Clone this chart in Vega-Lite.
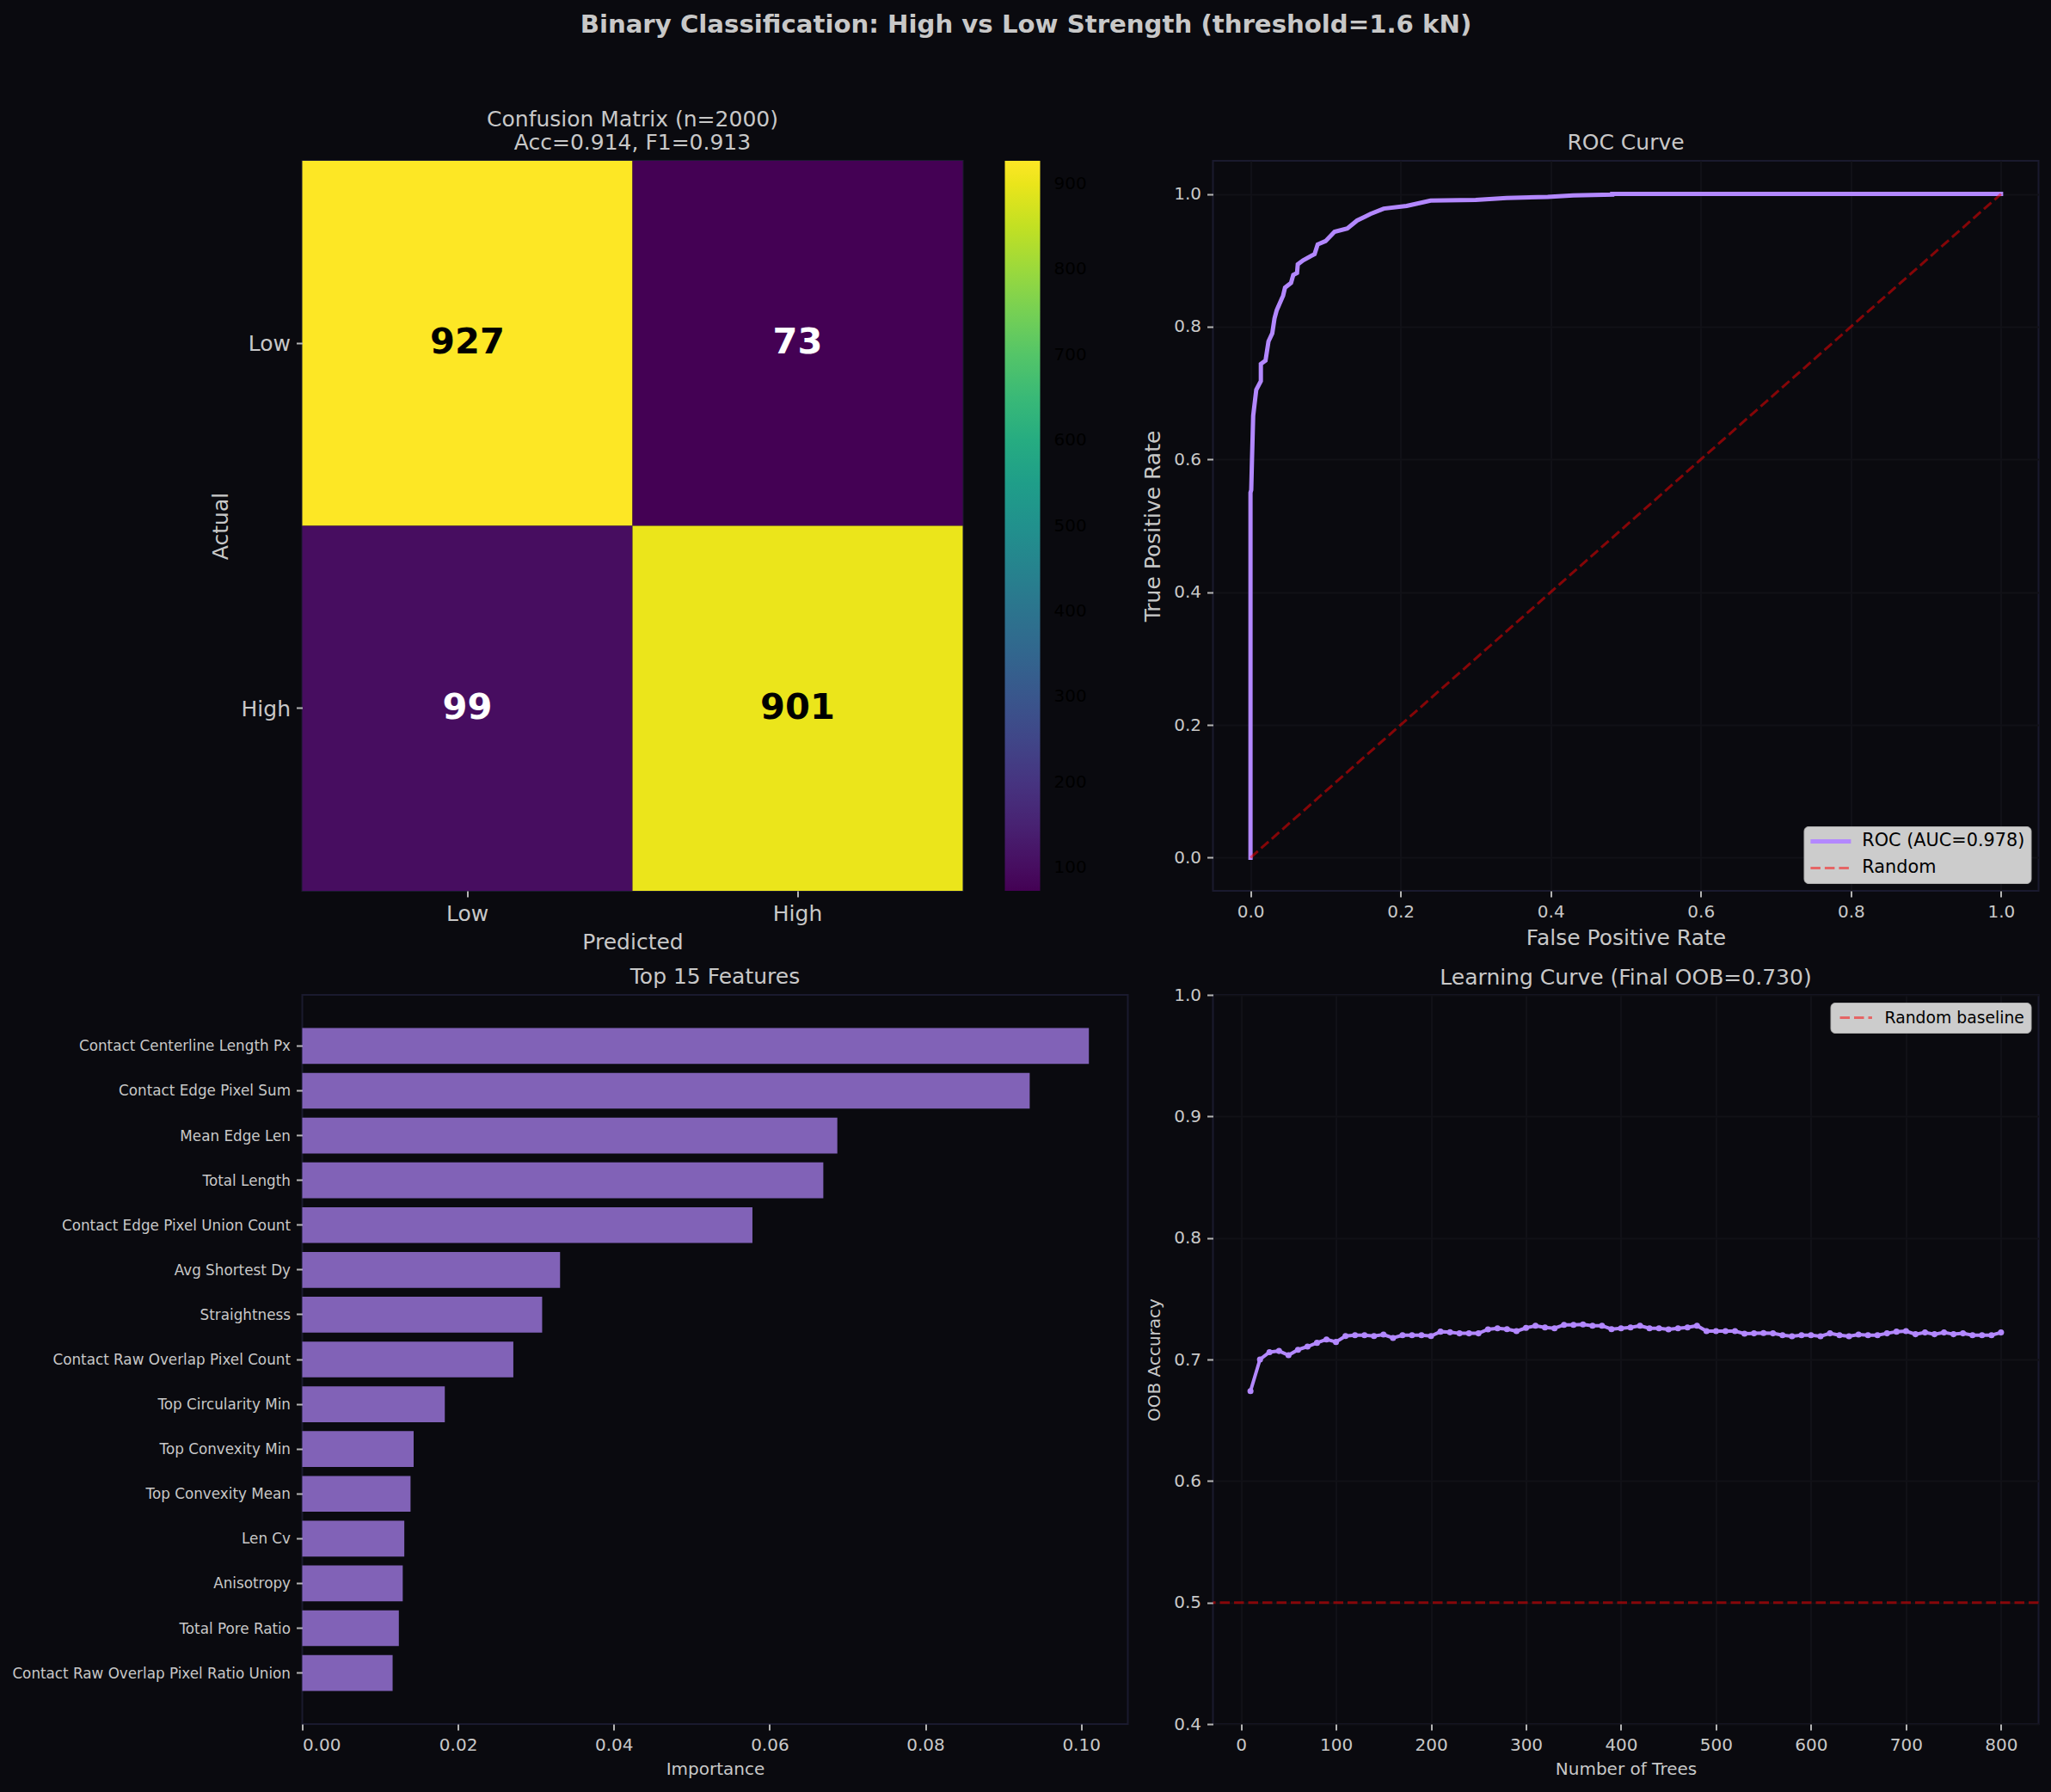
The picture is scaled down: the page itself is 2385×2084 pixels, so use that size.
{
  "$schema": "https://vega.github.io/schema/vega-lite/v6.json",
  "background": "#0a0a0f",
  "padding": {"left": 12.5, "right": 17, "top": 14, "bottom": 19},
  "title": {
    "text": "Binary Classification: High vs Low Strength (threshold=1.6 kN)",
    "fontSize": 29.2,
    "fontWeight": "bold",
    "color": "#c8c8c8",
    "anchor": "middle",
    "dx": 0,
    "offset": 82
  },
  "columns": 2,
  "bounds": "flush",
  "spacing": {"row": 121, "column": 99},
  "config": {
    "font": "DejaVu Sans",
    "view": {"stroke": "#1a1a2e", "strokeWidth": 2},
    "title": {"color": "#c8c8c8", "fontSize": 25, "fontWeight": "normal", "offset": 8},
    "axis": {
      "domain": false,
      "grid": false,
      "gridColor": "#111117",
      "gridWidth": 2,
      "tickSize": 7,
      "tickWidth": 2,
      "tickColor": "#b4b4b4",
      "labelColor": "#c8c8c8",
      "titleColor": "#c8c8c8",
      "labelFontSize": 20,
      "titleFontSize": 25,
      "titleFontWeight": "normal",
      "labelPadding": 7,
      "titlePadding": 8
    }
  },
  "concat": [
    {
      "width": 768,
      "height": 849,
      "title": {"text": ["Confusion Matrix (n=2000)", "Acc=0.914, F1=0.913"]},
      "data": {
        "values": [
          {"actual": "Low", "predicted": "Low", "count": 927},
          {"actual": "Low", "predicted": "High", "count": 73},
          {"actual": "High", "predicted": "Low", "count": 99},
          {"actual": "High", "predicted": "High", "count": 901}
        ]
      },
      "encoding": {
        "x": {
          "field": "predicted",
          "type": "nominal",
          "title": "Predicted",
          "scale": {"domain": ["Low", "High"]},
          "axis": {"labelAngle": 0, "labelFontSize": 25}
        },
        "y": {
          "field": "actual",
          "type": "nominal",
          "title": "Actual",
          "scale": {"domain": ["Low", "High"]},
          "axis": {"labelFontSize": 25, "titlePadding": 11, "labelOffset": 1}
        }
      },
      "layer": [
        {
          "mark": "rect",
          "encoding": {
            "color": {
              "field": "count",
              "type": "quantitative",
              "scale": {"scheme": "viridis", "domain": [73, 927]},
              "legend": {
                "title": null,
                "orient": "none",
                "legendX": 817,
                "legendY": 0,
                "direction": "vertical",
                "gradientLength": 849,
                "gradientThickness": 41,
                "gradientStrokeWidth": 0,
                "values": [100, 200, 300, 400, 500, 600, 700, 800, 900],
                "labelColor": "#000000",
                "labelFontSize": 20,
                "labelOffset": 16,
                "labelOverlap": false
              }
            }
          }
        },
        {
          "mark": {"type": "text", "fontSize": 41.6, "fontWeight": "bold"},
          "encoding": {
            "text": {"field": "count", "type": "quantitative"},
            "color": {
              "condition": {"test": "datum.count > 500", "value": "#000000"},
              "value": "#ffffff"
            }
          }
        }
      ]
    },
    {
      "width": 960,
      "height": 849,
      "title": {"text": "ROC Curve"},
      "encoding": {
        "x": {
          "field": "fpr",
          "type": "quantitative",
          "title": "False Positive Rate",
          "scale": {"domain": [-0.05, 1.05], "nice": false},
          "axis": {"grid": true, "values": [0, 0.2, 0.4, 0.6, 0.8, 1], "format": ".1f"}
        },
        "y": {
          "field": "tpr",
          "type": "quantitative",
          "title": "True Positive Rate",
          "scale": {"domain": [-0.05, 1.05], "nice": false},
          "axis": {"grid": true, "values": [0, 0.2, 0.4, 0.6, 0.8, 1], "format": ".1f", "titlePadding": 11}
        }
      },
      "layer": [
        {
          "data": {
            "values": [
              {"series": "ROC (AUC=0.978)", "fpr": 0, "tpr": 0},
              {"series": "ROC (AUC=0.978)", "fpr": 0, "tpr": 0.55},
              {"series": "ROC (AUC=0.978)", "fpr": 0.001, "tpr": 0.554},
              {"series": "ROC (AUC=0.978)", "fpr": 0.002, "tpr": 0.6},
              {"series": "ROC (AUC=0.978)", "fpr": 0.0036, "tpr": 0.666},
              {"series": "ROC (AUC=0.978)", "fpr": 0.0077, "tpr": 0.705},
              {"series": "ROC (AUC=0.978)", "fpr": 0.0138, "tpr": 0.718},
              {"series": "ROC (AUC=0.978)", "fpr": 0.0138, "tpr": 0.744},
              {"series": "ROC (AUC=0.978)", "fpr": 0.02, "tpr": 0.749},
              {"series": "ROC (AUC=0.978)", "fpr": 0.024, "tpr": 0.778},
              {"series": "ROC (AUC=0.978)", "fpr": 0.029, "tpr": 0.79},
              {"series": "ROC (AUC=0.978)", "fpr": 0.032, "tpr": 0.8125},
              {"series": "ROC (AUC=0.978)", "fpr": 0.035, "tpr": 0.825},
              {"series": "ROC (AUC=0.978)", "fpr": 0.0435, "tpr": 0.847},
              {"series": "ROC (AUC=0.978)", "fpr": 0.046, "tpr": 0.859},
              {"series": "ROC (AUC=0.978)", "fpr": 0.054, "tpr": 0.866},
              {"series": "ROC (AUC=0.978)", "fpr": 0.057, "tpr": 0.878},
              {"series": "ROC (AUC=0.978)", "fpr": 0.062, "tpr": 0.881},
              {"series": "ROC (AUC=0.978)", "fpr": 0.063, "tpr": 0.894},
              {"series": "ROC (AUC=0.978)", "fpr": 0.07, "tpr": 0.9},
              {"series": "ROC (AUC=0.978)", "fpr": 0.0854, "tpr": 0.9095},
              {"series": "ROC (AUC=0.978)", "fpr": 0.0895, "tpr": 0.924},
              {"series": "ROC (AUC=0.978)", "fpr": 0.1, "tpr": 0.929},
              {"series": "ROC (AUC=0.978)", "fpr": 0.112, "tpr": 0.943},
              {"series": "ROC (AUC=0.978)", "fpr": 0.129, "tpr": 0.948},
              {"series": "ROC (AUC=0.978)", "fpr": 0.142, "tpr": 0.96},
              {"series": "ROC (AUC=0.978)", "fpr": 0.152, "tpr": 0.9655},
              {"series": "ROC (AUC=0.978)", "fpr": 0.16, "tpr": 0.97},
              {"series": "ROC (AUC=0.978)", "fpr": 0.1775, "tpr": 0.978},
              {"series": "ROC (AUC=0.978)", "fpr": 0.208, "tpr": 0.982},
              {"series": "ROC (AUC=0.978)", "fpr": 0.24, "tpr": 0.99},
              {"series": "ROC (AUC=0.978)", "fpr": 0.3, "tpr": 0.991},
              {"series": "ROC (AUC=0.978)", "fpr": 0.341, "tpr": 0.994},
              {"series": "ROC (AUC=0.978)", "fpr": 0.396, "tpr": 0.9957},
              {"series": "ROC (AUC=0.978)", "fpr": 0.43, "tpr": 0.998},
              {"series": "ROC (AUC=0.978)", "fpr": 0.482, "tpr": 0.999},
              {"series": "ROC (AUC=0.978)", "fpr": 0.482, "tpr": 1},
              {"series": "ROC (AUC=0.978)", "fpr": 1, "tpr": 1}
            ]
          },
          "mark": {"type": "line", "strokeWidth": 5, "strokeCap": "square"},
          "encoding": {
            "color": {
              "field": "series",
              "type": "nominal",
              "scale": {"domain": ["ROC (AUC=0.978)", "Random"], "range": ["#b388ff", "#ff0000"]},
              "legend": {
                "title": null,
                "orient": "bottom-right",
                "offset": 9,
                "fillColor": "#cccccc",
                "strokeColor": "#b0b0b0",
                "cornerRadius": 5,
                "padding": 7,
                "symbolType": "M-0.95,0H3.75",
                "symbolSize": 400,
                "rowPadding": 9,
                "labelOffset": 40,
                "labelColor": "#000000",
                "labelFontSize": 20.8,
                "labelLimit": 400,
                "encoding": {
                  "symbols": {
                    "strokeDash": {"value": {"signal": "datum.value === 'Random' ? [11.5, 5] : [1, 0]"}},
                    "strokeWidth": {"value": {"signal": "datum.value === 'Random' ? 3 : 5"}},
                    "opacity": {"value": {"signal": "datum.value === 'Random' ? 0.5 : 1"}}
                  }
                }
              }
            }
          }
        },
        {
          "data": {
            "values": [
              {"series": "Random", "fpr": 0, "tpr": 0},
              {"series": "Random", "fpr": 1, "tpr": 1}
            ]
          },
          "mark": {"type": "line", "strokeWidth": 3, "strokeDash": [11.5, 5], "opacity": 0.5},
          "encoding": {
            "color": {
              "field": "series",
              "type": "nominal",
              "scale": {"domain": ["ROC (AUC=0.978)", "Random"], "range": ["#b388ff", "#ff0000"]},
              "legend": null
            }
          }
        }
      ]
    },
    {
      "width": 960,
      "height": 848,
      "title": {"text": "Top 15 Features"},
      "data": {
        "values": [
          {"feature": "Contact Centerline Length Px", "importance": 0.101},
          {"feature": "Contact Edge Pixel Sum", "importance": 0.0934},
          {"feature": "Mean Edge Len", "importance": 0.0687},
          {"feature": "Total Length", "importance": 0.0669},
          {"feature": "Contact Edge Pixel Union Count", "importance": 0.0578},
          {"feature": "Avg Shortest Dy", "importance": 0.0331},
          {"feature": "Straightness", "importance": 0.0308},
          {"feature": "Contact Raw Overlap Pixel Count", "importance": 0.0271},
          {"feature": "Top Circularity Min", "importance": 0.0183},
          {"feature": "Top Convexity Min", "importance": 0.0143},
          {"feature": "Top Convexity Mean", "importance": 0.0139},
          {"feature": "Len Cv", "importance": 0.0131},
          {"feature": "Anisotropy", "importance": 0.0129},
          {"feature": "Total Pore Ratio", "importance": 0.0124},
          {"feature": "Contact Raw Overlap Pixel Ratio Union", "importance": 0.0116}
        ]
      },
      "mark": {"type": "bar", "color": "#b388ff", "opacity": 0.7},
      "encoding": {
        "x": {
          "field": "importance",
          "type": "quantitative",
          "title": "Importance",
          "scale": {"domain": [0, 0.106], "nice": false},
          "axis": {"values": [0, 0.02, 0.04, 0.06, 0.08, 0.1], "format": ".2f", "titleFontSize": 20}
        },
        "y": {
          "field": "feature",
          "type": "nominal",
          "title": null,
          "sort": null,
          "scale": {"paddingInner": 0.2, "paddingOuter": 0.74},
          "axis": {"labelFontSize": 16.8, "labelLimit": 500, "labelOffset": 1}
        }
      }
    },
    {
      "width": 960,
      "height": 848,
      "title": {"text": "Learning Curve (Final OOB=0.730)", "offset": -3},
      "encoding": {
        "y": {
          "field": "accuracy",
          "type": "quantitative",
          "title": "OOB Accuracy",
          "scale": {"domain": [0.4, 1], "nice": false},
          "axis": {"grid": true, "values": [0.4, 0.5, 0.6, 0.7, 0.8, 0.9, 1], "format": ".1f", "titleFontSize": 20, "titlePadding": 12}
        }
      },
      "layer": [
        {
          "data": {
            "values": [
              {"label": "Random baseline", "accuracy": 0.5}
            ]
          },
          "mark": {"type": "rule", "strokeWidth": 3, "strokeDash": [11.5, 5], "opacity": 0.5},
          "encoding": {
            "color": {
              "field": "label",
              "type": "nominal",
              "scale": {"domain": ["Random baseline"], "range": ["#ff0000"]},
              "legend": {
                "title": null,
                "orient": "top-right",
                "offset": 9,
                "fillColor": "#cccccc",
                "strokeColor": "#b0b0b0",
                "cornerRadius": 5,
                "padding": 7,
                "symbolType": "M-0.72,0H3.44",
                "symbolSize": 324,
                "labelOffset": 35,
                "labelColor": "#000000",
                "labelFontSize": 18.8,
                "labelLimit": 400,
                "encoding": {
                  "symbols": {
                    "strokeDash": {"value": [11.5, 5]},
                    "strokeWidth": {"value": 3},
                    "opacity": {"value": 0.5}
                  }
                }
              }
            }
          }
        },
        {
          "data": {
            "values": [
              {"trees": 10, "accuracy": 0.674}, {"trees": 20, "accuracy": 0.7}, {"trees": 30, "accuracy": 0.706}, {"trees": 40, "accuracy": 0.707},
              {"trees": 50, "accuracy": 0.7035}, {"trees": 60, "accuracy": 0.708}, {"trees": 70, "accuracy": 0.7106}, {"trees": 80, "accuracy": 0.7137},
              {"trees": 90, "accuracy": 0.7165}, {"trees": 100, "accuracy": 0.7144}, {"trees": 110, "accuracy": 0.7193}, {"trees": 120, "accuracy": 0.72},
              {"trees": 130, "accuracy": 0.72}, {"trees": 140, "accuracy": 0.7193}, {"trees": 150, "accuracy": 0.7205}, {"trees": 160, "accuracy": 0.7177},
              {"trees": 170, "accuracy": 0.72}, {"trees": 180, "accuracy": 0.72}, {"trees": 190, "accuracy": 0.72}, {"trees": 200, "accuracy": 0.7193},
              {"trees": 210, "accuracy": 0.7229}, {"trees": 220, "accuracy": 0.7224}, {"trees": 230, "accuracy": 0.7215}, {"trees": 240, "accuracy": 0.7215},
              {"trees": 250, "accuracy": 0.7215}, {"trees": 260, "accuracy": 0.7248}, {"trees": 270, "accuracy": 0.7257}, {"trees": 280, "accuracy": 0.725},
              {"trees": 290, "accuracy": 0.7233}, {"trees": 300, "accuracy": 0.726}, {"trees": 310, "accuracy": 0.7278}, {"trees": 320, "accuracy": 0.7264},
              {"trees": 330, "accuracy": 0.7257}, {"trees": 340, "accuracy": 0.7285}, {"trees": 350, "accuracy": 0.7285}, {"trees": 360, "accuracy": 0.7288},
              {"trees": 370, "accuracy": 0.7278}, {"trees": 380, "accuracy": 0.7278}, {"trees": 390, "accuracy": 0.725}, {"trees": 400, "accuracy": 0.7257},
              {"trees": 410, "accuracy": 0.7264}, {"trees": 420, "accuracy": 0.7278}, {"trees": 430, "accuracy": 0.7257}, {"trees": 440, "accuracy": 0.7257},
              {"trees": 450, "accuracy": 0.7248}, {"trees": 460, "accuracy": 0.7257}, {"trees": 470, "accuracy": 0.7264}, {"trees": 480, "accuracy": 0.7278},
              {"trees": 490, "accuracy": 0.7233}, {"trees": 500, "accuracy": 0.7233}, {"trees": 510, "accuracy": 0.7233}, {"trees": 520, "accuracy": 0.7233},
              {"trees": 530, "accuracy": 0.7212}, {"trees": 540, "accuracy": 0.7215}, {"trees": 550, "accuracy": 0.7217}, {"trees": 560, "accuracy": 0.7215},
              {"trees": 570, "accuracy": 0.72}, {"trees": 580, "accuracy": 0.7191}, {"trees": 590, "accuracy": 0.72}, {"trees": 600, "accuracy": 0.72},
              {"trees": 610, "accuracy": 0.7191}, {"trees": 620, "accuracy": 0.7215}, {"trees": 630, "accuracy": 0.72}, {"trees": 640, "accuracy": 0.7191},
              {"trees": 650, "accuracy": 0.7205}, {"trees": 660, "accuracy": 0.72}, {"trees": 670, "accuracy": 0.72}, {"trees": 680, "accuracy": 0.7215},
              {"trees": 690, "accuracy": 0.7229}, {"trees": 700, "accuracy": 0.7233}, {"trees": 710, "accuracy": 0.7208}, {"trees": 720, "accuracy": 0.7222},
              {"trees": 730, "accuracy": 0.7208}, {"trees": 740, "accuracy": 0.7222}, {"trees": 750, "accuracy": 0.7208}, {"trees": 760, "accuracy": 0.7215},
              {"trees": 770, "accuracy": 0.72}, {"trees": 780, "accuracy": 0.72}, {"trees": 790, "accuracy": 0.72}, {"trees": 800, "accuracy": 0.7222}
            ]
          },
          "mark": {
            "type": "line",
            "color": "#b388ff",
            "strokeWidth": 4,
            "point": {"filled": true, "color": "#b388ff", "size": 50, "opacity": 1}
          },
          "encoding": {
            "x": {
              "field": "trees",
              "type": "quantitative",
              "title": "Number of Trees",
              "scale": {"domain": [-29.5, 839.5], "nice": false},
              "axis": {"grid": true, "values": [0, 100, 200, 300, 400, 500, 600, 700, 800], "titleFontSize": 20}
            }
          }
        }
      ]
    }
  ]
}
